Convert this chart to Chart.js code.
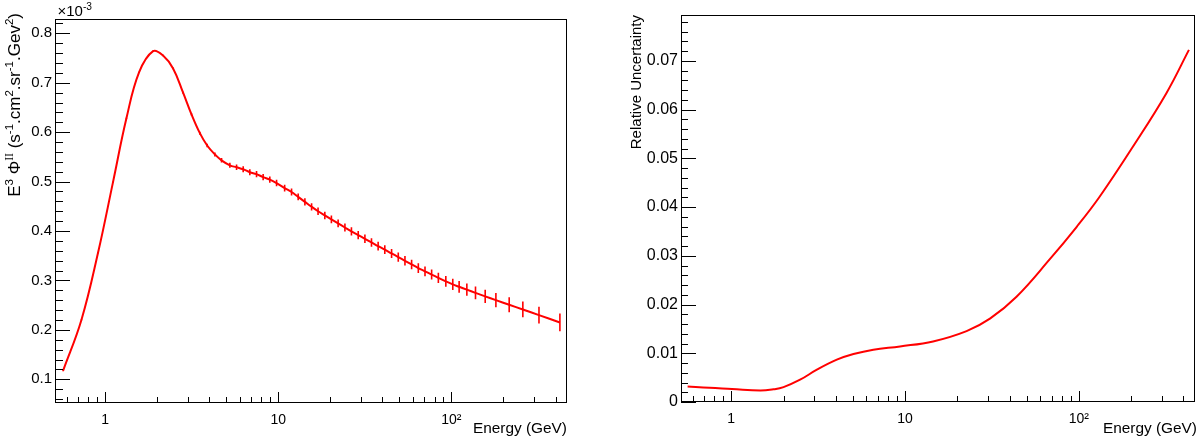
<!DOCTYPE html>
<html lang="en">
<head>
<meta charset="UTF-8">
<title>Flux and relative uncertainty</title>
<script src="https://cdn.jsdelivr.net/npm/chart.js"></script>
<style>
    html, body { margin: 0; padding: 0; background: #fff; }
    #wrap { position: relative; width: 1200px; height: 438px; overflow: hidden; }
    canvas { position: absolute; top: 0; }
    #flux-chart { left: 0; }
    #unc-chart { left: 600px; }
</style>
</head>
<body>
<div id="wrap">
    <canvas id="flux-chart" width="600" height="438"></canvas>
    <canvas id="unc-chart" width="600" height="438"></canvas>
</div>
<script>
// Left panel: E^3 * flux (units of 1e-3)
var fluxEnergy = [0.572, 0.731, 0.911, 1.112, 1.329, 1.572, 1.895, 2.163, 2.472, 2.824,
    3.158, 3.53, 3.89, 4.31, 4.71, 5.26, 5.75, 6.28, 6.86, 7.50,
    8.19, 8.95, 9.79, 10.9, 11.95, 13.05, 14.27, 15.6, 17.0, 18.6,
    20.3, 22.2, 24.3, 26.5, 29.0, 31.7, 34.6, 37.8, 41.3, 45.2,
    49.4, 54.0, 59.0, 64.5, 70.5, 77.0, 84.2, 93, 102, 111,
    123, 138, 157, 181, 216, 259, 321, 424];
var fluxValue = [0.117, 0.2205, 0.356, 0.499, 0.628, 0.721, 0.764, 0.755, 0.729, 0.680,
    0.636, 0.598, 0.573, 0.555, 0.543, 0.533, 0.529, 0.525, 0.519, 0.515,
    0.509, 0.504, 0.497, 0.487, 0.479, 0.469, 0.459, 0.449, 0.440, 0.4316,
    0.4236, 0.4154, 0.4071, 0.3993, 0.3918, 0.3843, 0.377, 0.3695, 0.3623, 0.3547,
    0.3473, 0.3398, 0.3324, 0.325, 0.3184, 0.3119, 0.3053, 0.298, 0.2919, 0.2871,
    0.2813, 0.2748, 0.2677, 0.2602, 0.2508, 0.2413, 0.2299, 0.215];
var fluxError = [0.001, 0.001, 0.001, 0.0012, 0.0013, 0.0014, 0.0015, 0.0016, 0.0018, 0.002,
    0.0025, 0.003, 0.0035, 0.004, 0.0045, 0.005, 0.0055, 0.006, 0.006, 0.0062,
    0.0064, 0.0065, 0.0066, 0.0068, 0.007, 0.007, 0.0072, 0.0073, 0.0075, 0.0076,
    0.0078, 0.008, 0.008, 0.0082, 0.0083, 0.0085, 0.0086, 0.0088, 0.009, 0.0091,
    0.0093, 0.0095, 0.0097, 0.0099, 0.010, 0.0102, 0.0105, 0.011, 0.0115, 0.012,
    0.0125, 0.013, 0.0135, 0.0145, 0.015, 0.016, 0.017, 0.018];

// Right panel: relative uncertainty
var uncEnergy = [0.561, 0.75, 1.01, 1.468, 1.75, 2.0, 2.49, 3.11, 4.05, 5.05,
    6.57, 9.36, 14.5, 22.6, 30.8, 43.8, 68.1, 97, 132, 205,
    319, 430];
var uncValue = [0.0032, 0.0029, 0.00267, 0.00235, 0.0026, 0.00305, 0.00457, 0.00662, 0.00868, 0.00984,
    0.01073, 0.0114, 0.01243, 0.01455, 0.0171, 0.0216, 0.0293, 0.0359, 0.04217, 0.05242,
    0.06337, 0.07225];

// axis ticks
var xMajorTicks = [1, 10, 100];
var xTickLabels = ['1', '10', '10\u00b2'];
var fluxTicks = [0.1, 0.2, 0.3, 0.4, 0.5, 0.6, 0.7, 0.8];
var uncTicks = [0, 0.01, 0.02, 0.03, 0.04, 0.05, 0.06, 0.07];

var FONT = "'Liberation Sans', Arial, Helvetica, sans-serif";

function logMinor(min, max) {
    var out = [];
    [0.1, 1, 10, 100].forEach(function (d) {
        for (var k = 2; k <= 9; k++) {
            var v = k * d;
            if (v > min && v < max) out.push(v);
        }
    });
    return out;
}

function linMinor(min, max, step, majors) {
    var out = [];
    for (var i = Math.ceil(min / step); i * step <= max; i++) {
        var v = +(i * step).toFixed(6);
        if (majors.indexOf(v) < 0) out.push(v);
    }
    return out;
}

// draw text with superscripts, right-aligned so that it ends at (0,0)
function drawRich(ctx, parts, size) {
    var supSize = size * 0.68;
    var total = 0;
    parts.forEach(function (p) {
        ctx.font = (p.sup ? supSize : size) + 'px ' + (p.serif ? "'Liberation Serif', serif" : FONT);
        p.w = ctx.measureText(p.t).width;
        total += p.w;
    });
    var x = -total;
    parts.forEach(function (p) {
        ctx.font = (p.sup ? supSize : size) + 'px ' + (p.serif ? "'Liberation Serif', serif" : FONT);
        ctx.fillText(p.t, x, p.sup ? -size * 0.42 : 0);
        x += p.w;
    });
}

var rootAxes = {
    id: 'rootAxes',
    afterDatasetsDraw: function (chart, args, o) {
        var ctx = chart.ctx, a = chart.chartArea;
        var xs = chart.scales.x, ys = chart.scales.y;
        ctx.save();

        // error bars
        if (o.errors) {
            ctx.beginPath();
            ctx.rect(a.left, a.top, a.right - a.left, a.bottom - a.top);
            ctx.clip();
            ctx.strokeStyle = '#ff0000';
            ctx.lineWidth = 1.6;
            ctx.beginPath();
            o.errors.x.forEach(function (e, i) {
                var px = xs.getPixelForValue(e);
                ctx.moveTo(px, ys.getPixelForValue(o.errors.y[i] - o.errors.e[i]));
                ctx.lineTo(px, ys.getPixelForValue(o.errors.y[i] + o.errors.e[i]));
            });
            ctx.stroke();
        }
        ctx.restore();
    },
    afterDraw: function (chart, args, o) {
        var ctx = chart.ctx, a = chart.chartArea;
        var xs = chart.scales.x, ys = chart.scales.y;
        ctx.save();
        ctx.strokeStyle = '#000';
        ctx.lineWidth = 1;
        ctx.strokeRect(a.left + 0.5, a.top + 0.5, a.right - a.left - 1, a.bottom - a.top - 1);

        ctx.beginPath();
        function xTick(v, len) {
            var px = Math.round(xs.getPixelForValue(v)) + 0.5;
            ctx.moveTo(px, a.bottom);
            ctx.lineTo(px, a.bottom - len);
        }
        function yTick(v, len) {
            var py = Math.round(ys.getPixelForValue(v)) + 0.5;
            ctx.moveTo(a.left, py);
            ctx.lineTo(a.left + len, py);
        }
        xMajorTicks.forEach(function (v) { xTick(v, 11); });
        logMinor(xs.min, xs.max).forEach(function (v) { xTick(v, 6); });
        o.yMajor.forEach(function (v) { yTick(v, o.yMajorLen); });
        o.yMinor.forEach(function (v) { yTick(v, o.yMinorLen); });
        ctx.stroke();

        ctx.fillStyle = '#000';
        ctx.textBaseline = 'alphabetic';
        ctx.textAlign = 'left';

        // x title, right aligned
        ctx.save();
        ctx.translate(o.xTitleRight, 433);
        drawRich(ctx, [{ t: 'Energy (GeV)' }], 15.4);
        ctx.restore();

        // y title, rotated, right aligned at the top
        ctx.save();
        ctx.translate(o.yTitleX, o.yTitleTop);
        ctx.rotate(-Math.PI / 2);
        drawRich(ctx, o.yTitle, o.yTitleSize);
        ctx.restore();

        if (o.exponent) {
            ctx.save();
            ctx.translate(a.left + 37, 16);
            drawRich(ctx, [{ t: '\u00d710' }, { t: '-3', sup: true }], 15);
            ctx.restore();
        }
        ctx.restore();
    }
};

function xAxis(height) {
    return {
        type: 'logarithmic',
        min: 0.514,
        max: 466,
        grid: { display: false, drawTicks: false },
        border: { display: false },
        afterBuildTicks: function (s) {
            s.ticks = xMajorTicks.map(function (v) { return { value: v }; });
        },
        afterFit: function (s) { s.height = height; },
        ticks: {
            autoSkip: false,
            maxRotation: 0,
            padding: 9,
            color: '#000',
            font: { family: FONT, size: 14 },
            callback: function (v) {
                var i = xMajorTicks.indexOf(v);
                return i < 0 ? '' : xTickLabels[i];
            }
        }
    };
}

function yAxis(min, max, ticks, width, size, fmt) {
    return {
        type: 'linear',
        min: min,
        max: max,
        grid: { display: false, drawTicks: false },
        border: { display: false },
        afterBuildTicks: function (s) {
            s.ticks = ticks.map(function (v) { return { value: v }; });
        },
        afterFit: function (s) { s.width = width; },
        ticks: {
            autoSkip: false,
            padding: 3,
            color: '#000',
            font: { family: FONT, size: size },
            callback: fmt
        }
    };
}

function points(xv, yv) {
    return xv.map(function (x, i) { return { x: x, y: yv[i] }; });
}

Chart.register(rootAxes);

new Chart(document.getElementById('flux-chart').getContext('2d'), {
    type: 'line',
    data: {
        datasets: [{
            data: points(fluxEnergy, fluxValue),
            borderColor: '#ff0000',
            borderWidth: 2,
            pointRadius: 0,
            fill: false,
            tension: 0.4
        }]
    },
    options: {
        responsive: false,
        animation: false,
        layout: { padding: { top: 19, right: 33, left: 0, bottom: 0 } },
        plugins: {
            legend: { display: false },
            tooltip: { enabled: false },
            rootAxes: {
                errors: { x: fluxEnergy, y: fluxValue, e: fluxError },
                yMajor: fluxTicks,
                yMinor: linMinor(0.052, 0.829, 0.02, fluxTicks),
                yMajorLen: 15,
                yMinorLen: 8,
                xTitleRight: 567,
                yTitleX: 20,
                yTitleTop: 13,
                yTitleSize: 17,
                exponent: true,
                yTitle: [
                    { t: 'E' }, { t: '3', sup: true }, { t: ' \u03a6' }, { t: 'II', sup: true, serif: true },
                    { t: ' (s' }, { t: '-1', sup: true }, { t: '.cm' }, { t: '2', sup: true },
                    { t: '.sr' }, { t: '-1', sup: true }, { t: '.Gev' }, { t: '2', sup: true }, { t: ')' }
                ]
            }
        },
        scales: {
            x: xAxis(35),
            y: yAxis(0.052, 0.829, fluxTicks, 55, 15, function (v) { return v.toFixed(1); })
        }
    }
});

new Chart(document.getElementById('unc-chart').getContext('2d'), {
    type: 'line',
    data: {
        datasets: [{
            data: points(uncEnergy, uncValue),
            borderColor: '#ff0000',
            borderWidth: 2,
            pointRadius: 0,
            fill: false,
            tension: 0.4
        }]
    },
    options: {
        responsive: false,
        animation: false,
        layout: { padding: { top: 15, right: 5, left: 0, bottom: 0 } },
        plugins: {
            legend: { display: false },
            tooltip: { enabled: false },
            rootAxes: {
                yMajor: uncTicks,
                yMinor: linMinor(0, 0.0794, 0.002, uncTicks),
                yMajorLen: 15,
                yMinorLen: 7,
                xTitleRight: 597,
                yTitleX: 40.5,
                yTitleTop: 15,
                yTitleSize: 15,
                exponent: false,
                yTitle: [{ t: 'Relative Uncertainty' }]
            }
        },
        scales: {
            x: xAxis(36),
            y: yAxis(0, 0.0794, uncTicks, 81, 16, function (v) { return v === 0 ? '0' : v.toFixed(2); })
        }
    }
});
</script>
</body>
</html>
